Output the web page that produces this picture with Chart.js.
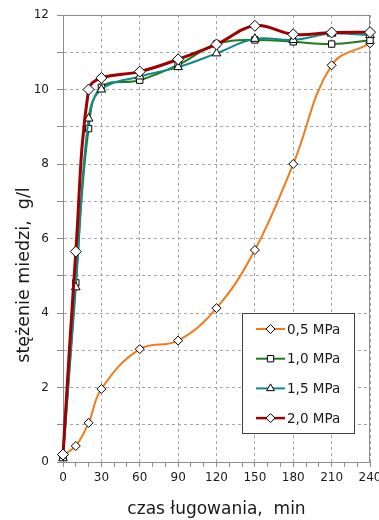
<!DOCTYPE html>
<html>
<head>
<meta charset="utf-8">
<script src="https://cdn.jsdelivr.net/npm/chart.js@4/dist/chart.umd.min.js"></script>
<style>
  html, body { margin: 0; padding: 0; background: #fff; }
  #wrap { width: 379px; height: 520px; }
</style>
</head>
<body>
<div id="wrap"><canvas id="chart"></canvas></div>
<script>
// czas ługowania [min]
const times = [0, 10, 20, 30, 60, 90, 120, 150, 180, 210, 240];
// stężenie miedzi [g/l] for each pressure
const cu05 = [0.18, 0.43, 1.05, 1.96, 3.03, 3.26, 4.13, 5.69, 8.0, 10.65, 11.24];
const cu10 = [0.15, 4.81, 8.95, 10.06, 10.25, 10.66, 11.22, 11.33, 11.28, 11.22, 11.32];
const cu15 = [0.1, 4.69, 9.22, 10.0, 10.35, 10.6, 10.97, 11.36, 11.33, 11.5, 11.46];
const cu20 = [0.2, 5.65, 10.0, 10.31, 10.48, 10.81, 11.21, 11.71, 11.48, 11.53, 11.54];
const seriesNames = ['0,5 MPa', '1,0 MPa', '1,5 MPa', '2,0 MPa'];
const xTitle = 'czas ługowania,  min';
const yTitle = 'stężenie miedzi,  g/l';

const FONT = '"DejaVu Sans", Verdana, sans-serif';
const GRID = '#a6a6a6';
const AXIS = '#8c8c8c';

function toPoints(values) {
    return values.map(function (v, i) { return {x: times[i], y: v}; });
}

function makeSet(label, values, color, style, radius, width, order) {
    return {
        label: label,
        data: toPoints(values),
        borderColor: color,
        borderWidth: width,
        tension: 0.4,
        clip: 10,
        pointStyle: style,
        pointRadius: radius,
        pointBackgroundColor: '#fff',
        pointBorderColor: '#000',
        pointBorderWidth: 1,
        order: order
    };
}

const datasets = [
    makeSet(seriesNames[0], cu05, '#f07a1c', 'rectRot', 4.5, 2, 4),
    makeSet(seriesNames[1], cu10, '#1d7d1d', 'rect', 4.5, 2, 3),
    makeSet(seriesNames[2], cu15, '#138a8a', 'triangle', 5, 2, 2),
    makeSet(seriesNames[3], cu20, '#a00000', 'rectRot', 5.5, 3, 1)
];

// gray frame round the plot area
const framePlugin = {
    id: 'frame',
    beforeDatasetsDraw: function (chart) {
        const a = chart.chartArea, ctx = chart.ctx;
        ctx.save();
        ctx.strokeStyle = AXIS;
        ctx.lineWidth = 1;
        ctx.strokeRect(a.left + 0.5, a.top + 0.5, a.right - a.left - 1, a.bottom - a.top);
        ctx.restore();
    }
};

// rotated y title, sits lower than centre like in the original
const yTitlePlugin = {
    id: 'yTitle',
    afterDraw: function (chart) {
        const a = chart.chartArea, ctx = chart.ctx;
        ctx.save();
        ctx.translate(a.left - 39, a.top + 260);
        ctx.rotate(-Math.PI / 2);
        ctx.font = '17.5px ' + FONT;
        ctx.fillStyle = '#1a1a1a';
        ctx.textAlign = 'center';
        ctx.textBaseline = 'middle';
        ctx.fillText(yTitle, 0, 0);
        ctx.restore();
    }
};

// boxed legend with line + marker, inside plot area
const legendPlugin = {
    id: 'boxLegend',
    afterDraw: function (chart) {
        const a = chart.chartArea, ctx = chart.ctx;
        const x0 = a.right - 128, y0 = a.bottom - 149, w = 112, h = 120;
        ctx.save();
        ctx.fillStyle = '#fff';
        ctx.fillRect(x0, y0, w, h);
        ctx.strokeStyle = '#404040';
        ctx.lineWidth = 1;
        ctx.strokeRect(x0 + 0.5, y0 + 0.5, w, h);
        datasets.forEach(function (ds, i) {
            const y = y0 + 16 + i * 29.7;
            ctx.strokeStyle = ds.borderColor;
            ctx.lineWidth = Math.min(ds.borderWidth, 2.5);
            ctx.beginPath();
            ctx.moveTo(x0 + 14, y);
            ctx.lineTo(x0 + 43, y);
            ctx.stroke();
            ctx.fillStyle = '#fff';
            ctx.strokeStyle = '#000';
            ctx.lineWidth = 1;
            Chart.helpers.drawPoint(ctx, {pointStyle: ds.pointStyle, radius: 4.5, rotation: 0, borderWidth: 1}, x0 + 28.5, y);
            ctx.fillStyle = '#1a1a1a';
            ctx.font = '13.5px ' + FONT;
            ctx.textAlign = 'left';
            ctx.textBaseline = 'middle';
            ctx.fillText(ds.label, x0 + 45, y + 1);
        });
        ctx.restore();
    }
};

new Chart(document.getElementById('chart'), {
    type: 'line',
    data: {datasets: datasets},
    plugins: [framePlugin, yTitlePlugin, legendPlugin],
    options: {
        responsive: true,
        maintainAspectRatio: false,
        animation: false,
        layout: {padding: {top: 15, right: 9, left: 0, bottom: 0}},
        plugins: {legend: {display: false}, tooltip: {enabled: false}},
        scales: {
            x: {
                type: 'linear',
                min: 0,
                max: 240,
                afterFit: function (s) {
                    s.height = 58;
                    s.paddingLeft = 0;
                    s.paddingRight = 0;
                },
                ticks: {
                    stepSize: 10,
                    autoSkip: false,
                    maxRotation: 0,
                    padding: 4,
                    color: '#1a1a1a',
                    font: {family: FONT, size: 12},
                    callback: function (v) { return v % 30 === 0 ? String(v) : ''; }
                },
                grid: {
                    color: function (c) { return c.tick && c.tick.value % 30 === 0 ? GRID : 'rgba(0,0,0,0)'; },
                    tickColor: AXIS,
                    tickLength: 5,
                    tickBorderDash: []
                },
                border: {color: AXIS, dash: [3, 3]},
                title: {
                    display: true,
                    text: xTitle,
                    color: '#1a1a1a',
                    font: {family: FONT, size: 17},
                    padding: {top: 0, bottom: 0}
                }
            },
            y: {
                min: 0,
                max: 12,
                afterFit: function (s) {
                    s.width = 63;
                    s.paddingTop = 0;
                    s.paddingBottom = 0;
                },
                ticks: {
                    stepSize: 1,
                    padding: 8,
                    color: '#1a1a1a',
                    font: {family: FONT, size: 12},
                    callback: function (v) { return v % 2 === 0 ? String(v) : ''; }
                },
                grid: {
                    color: GRID,
                    tickColor: AXIS,
                    tickLength: 6,
                    tickBorderDash: []
                },
                border: {color: AXIS, dash: [3, 3]}
            }
        }
    }
});
</script>
</body>
</html>
